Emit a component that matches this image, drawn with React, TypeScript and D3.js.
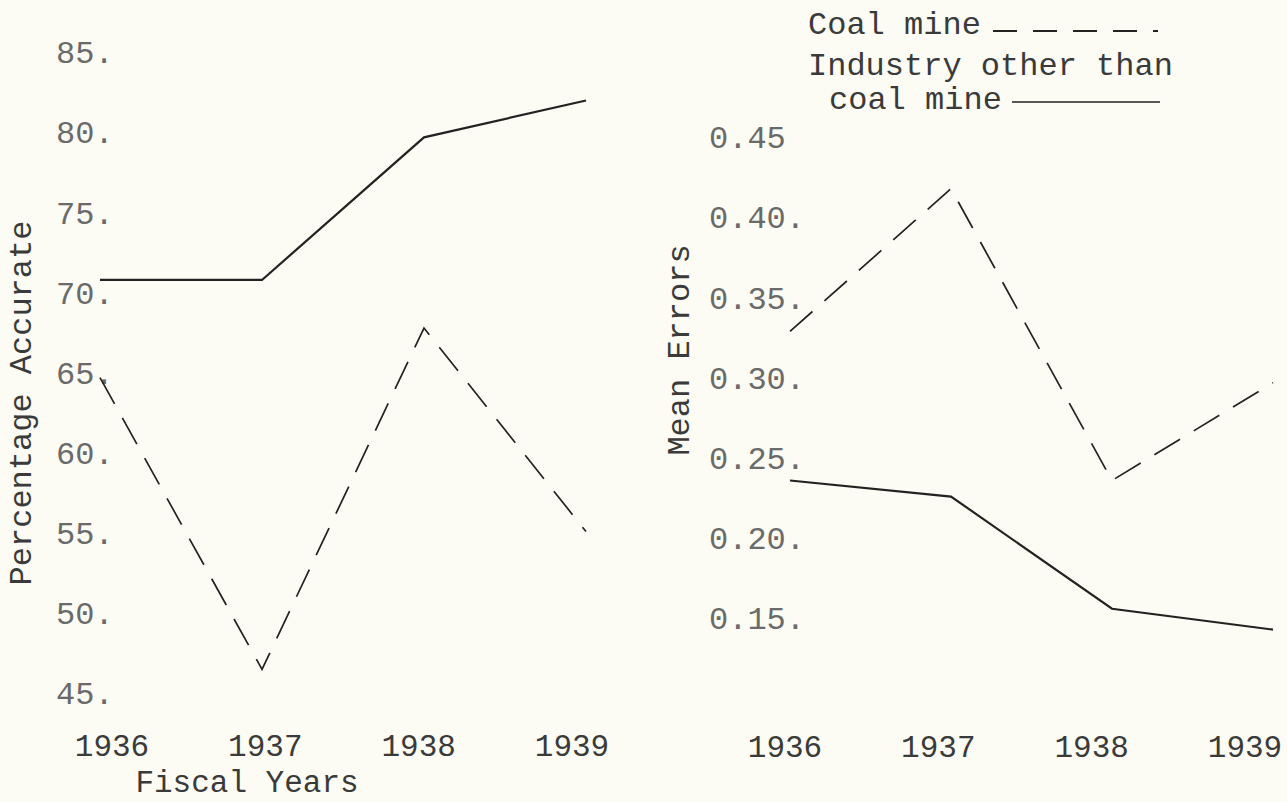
import React from "react";
import * as d3 from "d3";

const years = [1936, 1937, 1938, 1939];
const yearLabels = ["1936", "1937", "1938", "1939"];

// Left panel: Percentage Accurate
const leftCoalMine = [64.8, 46.6, 67.9, 55.2];
const leftOtherIndustry = [70.9, 70.9, 79.8, 82.1];
const leftTicks = [85, 80, 75, 70, 65, 60, 55, 50, 45];
const leftTickLabels = ["85.", "80.", "75.", "70.", "65.", "60.", "55.", "50.", "45."];

// Right panel: Mean Errors
const rightCoalMine = [0.33, 0.419, 0.237, 0.298];
const rightOtherIndustry = [0.237, 0.227, 0.157, 0.144];
const rightTicks = [0.45, 0.4, 0.35, 0.3, 0.25, 0.2, 0.15];
const rightTickLabels = ["0.45", "0.40.", "0.35.", "0.30.", "0.25.", "0.20.", "0.15."];

const FONT = "'Liberation Mono', 'DejaVu Sans Mono', monospace";
const FS = 32;
const FS_X = 31;
const INK = "#3a3a3a";
const TICK_INK = "#6a6a6a";
const BG = "#fcfcf4";

export default function App() {
  const W = 1287;
  const H = 802;

  // Left panel scales
  const lx = d3.scalePoint<number>().domain(years).range([100, 586]);
  const lxLabel = d3.scalePoint<number>().domain(years).range([112, 572]);
  const ly = d3.scaleLinear().domain([45, 85]).range([695, 54]);

  // Right panel scales
  const rx = d3.scalePoint<number>().domain(years).range([790, 1273]);
  const rxLabel = d3.scalePoint<number>().domain(years).range([785, 1245]);
  const ry = d3.scaleLinear().domain([0.15, 0.45]).range([620, 139]);

  const lLine = d3
    .line<number>()
    .x((_, i) => lx(years[i]) as number)
    .y((d) => ly(d));
  const rLine = d3
    .line<number>()
    .x((_, i) => rx(years[i]) as number)
    .y((d) => ry(d));

  const base = FS * 0.29; // offset from visual center to baseline

  const dash = "30 16";
  const solidW = 2.2;
  const dashW = 1.7;

  return (
    <svg
      width={W}
      height={H}
      style={{ position: "absolute", left: 0, top: 0, display: "block" }}
    >
      <rect x={0} y={0} width={W} height={H} fill={BG} />

      {/* Left panel */}
      <g>
        {leftTicks.map((t, i) => (
          <text
            key={"lt" + i}
            x={56}
            y={ly(t) + base}
            fontFamily={FONT}
            fontSize={FS}
            fill={TICK_INK}
          >
            {leftTickLabels[i]}
          </text>
        ))}
        {years.map((yv, i) => (
          <text
            key={"lx" + i}
            x={lxLabel(yv) as number}
            y={756}
            textAnchor="middle"
            fontFamily={FONT}
            fontSize={FS_X}
            fill={INK}
          >
            {yearLabels[i]}
          </text>
        ))}
        <text
          x={247}
          y={792}
          textAnchor="middle"
          fontFamily={FONT}
          fontSize={FS_X}
          fill={INK}
        >
          Fiscal Years
        </text>
        <text
          transform={`translate(${22 + base},403) rotate(-90)`}
          textAnchor="middle"
          fontFamily={FONT}
          fontSize={FS}
          fill={INK}
        >
          Percentage Accurate
        </text>
        <path
          d={lLine(leftOtherIndustry) || ""}
          fill="none"
          stroke="#222"
          strokeWidth={solidW}
        />
        <path
          d={lLine(leftCoalMine) || ""}
          fill="none"
          stroke="#222"
          strokeWidth={dashW}
          strokeDasharray={dash}
        />
      </g>

      {/* Right panel */}
      <g>
        {rightTicks.map((t, i) => (
          <text
            key={"rt" + i}
            x={709}
            y={ry(t) + base}
            fontFamily={FONT}
            fontSize={FS}
            fill={TICK_INK}
          >
            {rightTickLabels[i]}
          </text>
        ))}
        {years.map((yv, i) => (
          <text
            key={"rx" + i}
            x={rxLabel(yv) as number}
            y={757}
            textAnchor="middle"
            fontFamily={FONT}
            fontSize={FS_X}
            fill={INK}
          >
            {yearLabels[i]}
          </text>
        ))}
        <text
          transform={`translate(${680 + base},350) rotate(-90)`}
          textAnchor="middle"
          fontFamily={FONT}
          fontSize={FS}
          fill={INK}
        >
          Mean Errors
        </text>
        <path
          d={rLine(rightOtherIndustry) || ""}
          fill="none"
          stroke="#222"
          strokeWidth={solidW}
        />
        <path
          d={rLine(rightCoalMine) || ""}
          fill="none"
          stroke="#222"
          strokeWidth={dashW}
          strokeDasharray={dash}
        />
      </g>

      {/* Legend */}
      <g>
        <text x={808} y={25 + base} fontFamily={FONT} fontSize={FS} fill={INK}>
          Coal mine
        </text>
        <line
          x1={993}
          x2={1158}
          y1={31}
          y2={31}
          stroke="#222"
          strokeWidth={1.8}
          strokeDasharray="24 16"
        />
        <text x={808} y={66 + base} fontFamily={FONT} fontSize={FS} fill={INK}>
          Industry other than
        </text>
        <text x={829} y={100 + base} fontFamily={FONT} fontSize={FS} fill={INK}>
          coal mine
        </text>
        <line
          x1={1012}
          x2={1160}
          y1={102}
          y2={102}
          stroke="#222"
          strokeWidth={1.6}
        />
      </g>
    </svg>
  );
}
